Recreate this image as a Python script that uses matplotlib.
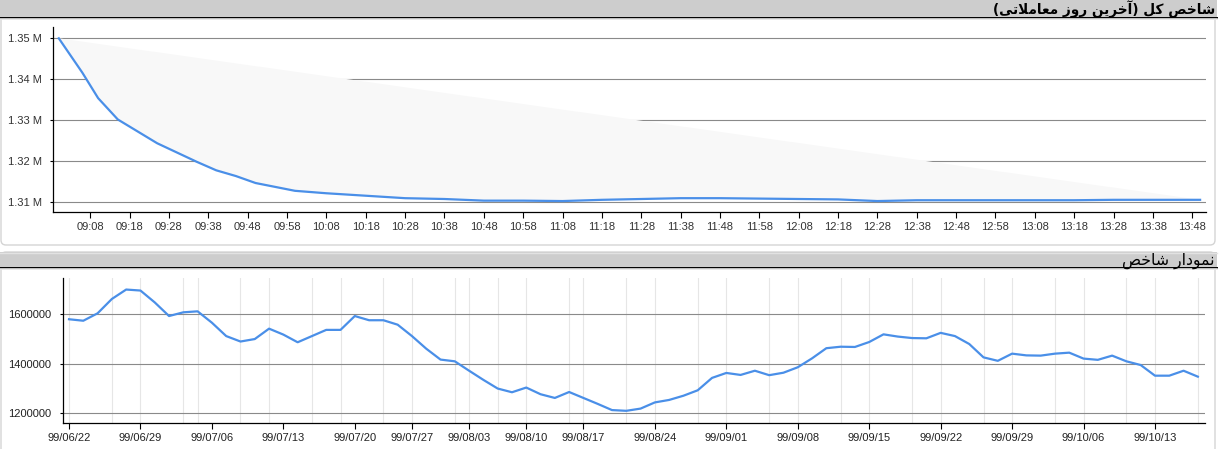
import matplotlib
matplotlib.use("Agg")
import matplotlib.pyplot as plt
from matplotlib.patches import FancyBboxPatch, Rectangle
from matplotlib.ticker import FuncFormatter

# ---------------- data ----------------
title_top = "شاخص کل (آخرین روز معاملاتی)"
title_bottom = "نمودار شاخص"

intraday_times = ["09:00", "09:06", "09:10", "09:15", "09:25", "09:35", "09:40",
                  "09:45", "09:50", "10:00", "10:08", "10:18", "10:28", "10:38",
                  "10:48", "10:58", "11:08", "11:18", "11:28", "11:38", "11:48",
                  "11:58", "12:08", "12:18", "12:28", "12:38", "12:48", "12:58",
                  "13:08", "13:18", "13:28", "13:38", "13:48", "13:50"]
intraday_values = [1.3500, 1.3416, 1.3354, 1.3302, 1.3244, 1.3199, 1.3178,
                   1.3164, 1.3147, 1.3128, 1.3122, 1.3116, 1.3110, 1.3108,
                   1.3104, 1.3104, 1.3103, 1.3106, 1.3108, 1.3110, 1.3110,
                   1.3109, 1.3108, 1.3107, 1.3103, 1.3105, 1.3105, 1.3105,
                   1.3105, 1.3105, 1.3106, 1.3106, 1.3106, 1.3106]
intraday_tick_labels = ["09:08", "09:18", "09:28", "09:38", "09:48", "09:58",
                        "10:08", "10:18", "10:28", "10:38", "10:48", "10:58",
                        "11:08", "11:18", "11:28", "11:38", "11:48", "11:58",
                        "12:08", "12:18", "12:28", "12:38", "12:48", "12:58",
                        "13:08", "13:18", "13:28", "13:38", "13:48"]
intraday_yticks = [1.31, 1.32, 1.33, 1.34, 1.35]

daily_values = [1580000, 1574000, 1604000, 1662000, 1700000, 1696000, 1648000,
                1593000, 1608000, 1612000, 1566000, 1512000, 1490000, 1500000,
                1542000, 1518000, 1487000, 1512000, 1537000, 1537000, 1593000,
                1576000, 1576000, 1558000, 1512000, 1461000, 1417000, 1410000,
                1372000, 1335000, 1300000, 1285000, 1304000, 1277000, 1262000,
                1286000, 1262000, 1238000, 1213000, 1210000, 1219000, 1244000,
                1254000, 1271000, 1293000, 1343000, 1363000, 1355000, 1372000,
                1354000, 1364000, 1386000, 1422000, 1463000, 1469000, 1468000,
                1488000, 1519000, 1510000, 1504000, 1503000, 1525000, 1512000,
                1480000, 1426000, 1412000, 1441000, 1434000, 1433000, 1441000,
                1445000, 1421000, 1416000, 1433000, 1410000, 1395000, 1352000,
                1352000, 1372000, 1348000]
daily_tick_labels = ["99/06/22", "99/06/29", "99/07/06", "99/07/13", "99/07/20",
                     "99/07/27", "99/08/03", "99/08/10", "99/08/17", "99/08/24",
                     "99/09/01", "99/09/08", "99/09/15", "99/09/22", "99/09/29",
                     "99/10/06", "99/10/13"]
daily_tick_day = [0, 5, 10, 15, 20, 24, 28, 32, 36, 41, 46, 51, 56, 61, 66, 71, 76]
daily_grid_day = [0, 3, 5, 8, 9, 12, 14, 17, 19, 22, 24, 27, 28, 30, 32, 35, 36,
                  39, 41, 44, 46, 49, 51, 54, 56, 59, 61, 64, 66, 69, 71, 74, 76, 79]
daily_yticks = [1200000, 1400000, 1600000]

# ---------------- simple Persian shaping for display ----------------
DUAL = set("بپتثجچحخسشصضطظعغفقکگلمنهیئ")
RIGHT = set("اآأإدذرزژو")
FORMS = {
    'ا': ('\uFE8D', '\uFE8E', None, None),
    'آ': ('\uFE81', '\uFE82', None, None),
    'ش': ('\uFEB5', '\uFEB6', '\uFEB7', '\uFEB8'),
    'خ': ('\uFEA5', '\uFEA6', '\uFEA7', '\uFEA8'),
    'ص': ('\uFEB9', '\uFEBA', '\uFEBB', '\uFEBC'),
    'ک': ('\uFB8E', '\uFB8F', '\uFB90', '\uFB91'),
    'ل': ('\uFEDD', '\uFEDE', '\uFEDF', '\uFEE0'),
    'ر': ('\uFEAD', '\uFEAE', None, None),
    'ی': ('\uFBFC', '\uFBFD', '\uFBFE', '\uFBFF'),
    'ن': ('\uFEE5', '\uFEE6', '\uFEE7', '\uFEE8'),
    'و': ('\uFEED', '\uFEEE', None, None),
    'ز': ('\uFEAF', '\uFEB0', None, None),
    'م': ('\uFEE1', '\uFEE2', '\uFEE3', '\uFEE4'),
    'ع': ('\uFEC9', '\uFECA', '\uFECB', '\uFECC'),
    'ت': ('\uFE95', '\uFE96', '\uFE97', '\uFE98'),
    'د': ('\uFEA9', '\uFEAA', None, None),
}
LAMALEF = {'ا': ('\uFEFB', '\uFEFC'), 'آ': ('\uFEF5', '\uFEF6')}


def shape_rtl(s):
    out = []
    i, n = 0, len(s)
    while i < n:
        c = s[i]
        if c not in FORMS:
            out.append(c)
            i += 1
            continue
        prev = s[i - 1] if i > 0 else ''
        jp = prev in DUAL
        if c == 'ل' and i + 1 < n and s[i + 1] in LAMALEF:
            out.append(LAMALEF[s[i + 1]][1 if jp else 0])
            i += 2
            continue
        nxt = s[i + 1] if i + 1 < n else ''
        jn = c in DUAL and (nxt in DUAL or nxt in RIGHT)
        iso, fin, ini, med = FORMS[c]
        if jp and jn:
            g = med
        elif jp:
            g = fin
        elif jn:
            g = ini
        else:
            g = iso
        out.append(g)
        i += 1
    vis = ''.join(reversed(out))
    return vis.translate(str.maketrans('()', ')('))


def minutes(hhmm):
    h, m = hhmm.split(":")
    return (int(h) - 9) * 60 + int(m)


# ---------------- figure ----------------
W, H = 1221, 449
fig = plt.figure(figsize=(W / 100, H / 100), dpi=100)
fig.patch.set_facecolor("white")

bg = fig.add_axes([0, 0, 1, 1], zorder=-10)
bg.set_xlim(0, W)
bg.set_ylim(H, 0)
bg.axis("off")

# panel frames
bg.add_patch(FancyBboxPatch((1, 1), 1214, 244, boxstyle="round,pad=0,rounding_size=5",
                            facecolor="white", edgecolor="#d4d4d4", lw=1))
bg.add_patch(FancyBboxPatch((1, 252), 1214, 260, boxstyle="round,pad=0,rounding_size=5",
                            facecolor="white", edgecolor="#d4d4d4", lw=1))
# title bars
bg.add_patch(Rectangle((0, 0), 1217, 17.5, facecolor="#cdcdcd", edgecolor="none"))
bg.plot([0, 1217], [17.8, 17.8], color="black", lw=1.4)
bg.plot([0, 1217], [19.2, 19.2], color="#e4e4e4", lw=1.2)
bg.add_patch(Rectangle((0, 252), 1217, 15.5, facecolor="#cdcdcd", edgecolor="none"))
bg.plot([0, 1217], [252.5, 252.5], color="#e2e2e2", lw=1.0)
bg.plot([0, 1217], [267.8, 267.8], color="black", lw=1.4)
bg.plot([0, 1217], [269.2, 269.2], color="#e4e4e4", lw=1.2)

bg.text(1215, 9.5, shape_rtl(title_top), ha="right", va="center",
        fontsize=9.8, fontweight="bold", family="DejaVu Sans", color="black")
bg.text(1214, 260.5, shape_rtl(title_bottom), ha="right", va="center",
        fontsize=11.3, family="DejaVu Sans", color="black")

line_color = "#4a8fe8"
grid_color = "#8a8a8a"

# ---------- top chart ----------
ax1 = fig.add_axes([53 / W, 1 - 212 / H, (1206 - 53) / W, (212 - 27) / H])
ax1.patch.set_alpha(0)
t = [minutes(s) for s in intraday_times]
ax1.fill(t, intraday_values, color="#f8f8f8", lw=0, zorder=1)
ax1.plot(t, intraday_values, color=line_color, lw=1.6, zorder=3, solid_joinstyle="round")
ax1.set_xlim(-1.47, 291.5)
ax1.set_ylim(1.30763, 1.35276)
ax1.set_yticks(intraday_yticks)
ax1.yaxis.set_major_formatter(FuncFormatter(lambda v, p: f"{v:.2f} M"))
ax1.set_xticks([minutes(s) for s in intraday_tick_labels])
ax1.set_xticklabels(intraday_tick_labels)
ax1.grid(axis="y", color=grid_color, lw=0.8, zorder=2)
ax1.set_axisbelow(True)
for s in ("top", "right"):
    ax1.spines[s].set_visible(False)
for s in ("left", "bottom"):
    ax1.spines[s].set_linewidth(0.9)
    ax1.spines[s].set_color("black")
ax1.tick_params(axis="x", length=4, width=0.8, pad=3, labelsize=8, labelcolor="#333333")
ax1.tick_params(axis="y", length=2.5, width=0.8, pad=5.5, labelsize=8, labelcolor="#333333")
for lab in ax1.get_xticklabels() + ax1.get_yticklabels():
    lab.set_family("Liberation Sans")

# ---------- bottom chart ----------
ax2 = fig.add_axes([63.3 / W, 1 - 422.7 / H, (1205 - 63.3) / W, (422.7 - 278.3) / H])
ax2.patch.set_alpha(0)
days = list(range(len(daily_values)))
for g in daily_grid_day:
    ax2.axvline(g, color="#e6e6e6", lw=0.8, zorder=1)
ax2.plot(days, daily_values, color=line_color, lw=1.6, zorder=3, solid_joinstyle="round")
ax2.set_xlim(-0.4, 79.5)
ax2.set_ylim(1162000, 1745450)
ax2.set_yticks(daily_yticks)
ax2.yaxis.set_major_formatter(FuncFormatter(lambda v, p: f"{int(v)}"))
ax2.set_xticks(daily_tick_day)
ax2.set_xticklabels(daily_tick_labels)
ax2.grid(axis="y", color=grid_color, lw=0.8, zorder=2)
for s in ("top", "right"):
    ax2.spines[s].set_visible(False)
for s in ("left", "bottom"):
    ax2.spines[s].set_linewidth(0.9)
    ax2.spines[s].set_color("black")
ax2.tick_params(axis="x", length=4.5, width=0.8, pad=3, labelsize=8, labelcolor="#222222")
ax2.tick_params(axis="y", length=2, width=0.8, pad=6.5, labelsize=8, labelcolor="#222222")
for lab in ax2.get_xticklabels() + ax2.get_yticklabels():
    lab.set_family("Liberation Sans")

fig.savefig("out.png", dpi=100)
